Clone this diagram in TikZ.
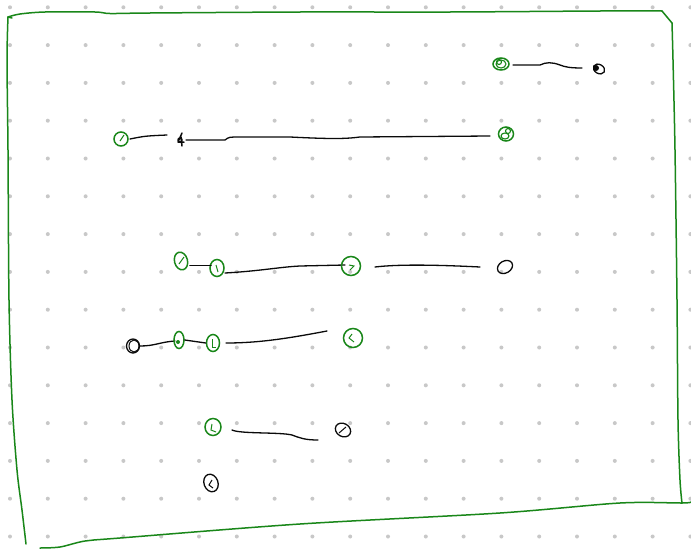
\documentclass[tikz,border=0pt]{standalone}
\usetikzlibrary{shapes.geometric}
\definecolor{pen}{RGB}{25,135,25}
\definecolor{ink}{RGB}{10,10,10}
\definecolor{dotc}{RGB}{200,200,200}
\tikzset{
  gblob/.style={draw=pen, line width=1.5, ellipse, inner sep=0pt},
  kblob/.style={draw=ink, line width=1.3, ellipse, inner sep=0pt},
  stroke/.style={draw=ink, line width=1.3, line cap=round, line join=round},
  frame/.style={draw=pen, line width=1.5, line cap=round, line join=round},
}
\begin{document}
\begin{tikzpicture}[x=1pt,y=-1pt]
\useasboundingbox (0,0) rectangle (691,549);
\fill[white] (0,0) rectangle (691,549);
% dot grid
\foreach \i in {0,...,18}{
  \foreach \j in {0,...,14}{
    \fill[dotc] ({10+37.8*\i},{7.3+37.8*\j}) circle[radius=2];
  }
}
% frame
\draw[frame] (12,18) -- (8,17);
\draw[frame] plot[smooth, tension=0.5] coordinates {(8,17)(20,14)(45,12)(95,12)(110,13.5)(150,13)(300,12)(450,12)(600,11)(662,11)};
\draw[frame] (662,11) -- (672,23);
\draw[frame] plot[smooth, tension=0.5] coordinates {(672,23)(673,60)(675,150)(677,300)(678,420)(680,480)(682,503)};
\draw[frame] plot[smooth, tension=0.5] coordinates {(691,502)(682,503)(620,503)(500,513)(300,524)(120,538)(85,541)(60,547)(40,548)};
\draw[frame] plot[smooth, tension=0.5] coordinates {(8,17)(7,60)(8,150)(9,300)(12,400)(17,470)(22,510)(26,544)};

% row 1
\node[gblob, minimum width=16, minimum height=12] (g1) at (501,64) {};
\draw[pen, line width=1.1] (501,64) ellipse[x radius=5, y radius=4];
\draw[pen, line width=1.1] (499,62) circle[radius=2.5];
\node[kblob, minimum width=12, minimum height=9, rotate=-30] (b1) at (599,69) {};
\fill[ink] (596,68) ellipse[x radius=3, y radius=3];
\coordinate (l1a) at (513,65);
\coordinate (l1b) at (582,68);
\draw[stroke] (l1a) -- (540,65) .. controls (546,62) and (552,62) .. (560,65) .. controls (565,67) and (570,68) .. (l1b);

% row 2
\node[gblob, minimum width=14, minimum height=14] (g2) at (121,139) {};
\draw[pen, line width=1] (120,141) -- (124,135);
\coordinate (l2a) at (130,139);
\coordinate (l2b) at (167,135);
\draw[stroke] (l2a) .. controls (145,136) .. (l2b);
\node[inner sep=0pt, minimum width=6, minimum height=10] (b2) at (181,140) {};
\draw[stroke, line width=1.5] (182,133) -- (178,142) -- (184,142) (181,137) -- (182,146) (180,140) circle[radius=2];
\coordinate (l2c) at (186,140);
\coordinate (l2d) at (490,136);
\draw[stroke] (l2c) -- (225,140) .. controls (229,137) .. (240,137) -- (290,137) .. controls (330,139) and (345,139) .. (360,137) -- (l2d);
\node[gblob, minimum width=15, minimum height=14] (g3) at (506,134) {};
\draw[pen, line width=1.1] (505,136) ellipse[x radius=4, y radius=3];
\draw[pen, line width=1.1] (508,131) circle[radius=2.5];

% row 3
\node[gblob, minimum width=13, minimum height=18, rotate=15] (g4) at (181,261) {};
\draw[pen, line width=1] (179,264) -- (184,257);
\node[gblob, minimum width=14, minimum height=17] (g5) at (217,268) {};
\draw[pen, line width=1] (216,265) -- (218,272);
\coordinate (l3s) at (190,265.5);
\coordinate (l3t) at (211,265.5);
\draw[stroke, line width=1.8] (l3s) -- (l3t);
\coordinate (l3a) at (225,273);
\coordinate (l3b) at (345,265);
\draw[stroke] (l3a) .. controls (260,271) and (280,267) .. (300,266) -- (l3b);
\node[gblob, minimum width=19, minimum height=19] (g6) at (351,266) {};
\draw[pen, line width=1] (349,265) -- (354,266) -- (350,270);
\coordinate (l3c) at (375,267);
\coordinate (l3d) at (480,267);
\draw[stroke] (l3c) .. controls (400,264) and (440,265) .. (l3d);
\node[kblob, minimum width=16, minimum height=12, rotate=30] (b3) at (505,267) {};

% row 4
\node[kblob, minimum width=13, minimum height=14] (b4) at (133,346) {};
\draw[ink, line width=1] (134,346) ellipse[x radius=5, y radius=6];
\coordinate (l4a) at (140,346);
\coordinate (l4b) at (175,341);
\draw[stroke] (l4a) .. controls (155,346) and (160,342) .. (l4b);
\node[gblob, minimum width=10, minimum height=17] (g7) at (179,340) {};
\fill[pen] (178,342) circle[radius=2];
\node[gblob, minimum width=13, minimum height=17] (g8) at (213,343) {};
\draw[pen, line width=1] (212,339) -- (212,347) -- (216,347);
\draw[stroke] (g7.east) -- (g8.west);
\coordinate (l4c) at (226,343);
\coordinate (l4d) at (327,331);
\draw[stroke] (l4c) .. controls (260,343) and (290,338) .. (l4d);
\node[gblob, minimum width=19, minimum height=19] (g9) at (353,338) {};
\draw[pen, line width=1] (352,334) -- (349,338) -- (354,342);

% row 5
\node[gblob, minimum width=16, minimum height=17] (g10) at (213,427) {};
\draw[pen, line width=1] (212,424) -- (211,430) -- (216,432);
\coordinate (l5a) at (232,430);
\coordinate (l5b) at (318,440);
\draw[stroke] (l5a) .. controls (240,434) and (280,432) .. (292,435) .. controls (300,438) and (305,440) .. (l5b);
\node[kblob, minimum width=16, minimum height=13, rotate=-30] (b5) at (343,430) {};
\draw[ink, line width=1] (339,433) -- (346,427);

% row 6
\node[kblob, minimum width=14, minimum height=18, rotate=20] (b6) at (211,483) {};
\draw[ink, line width=1] (212,480) -- (209,485) -- (213,488);
\end{tikzpicture}
\end{document}
